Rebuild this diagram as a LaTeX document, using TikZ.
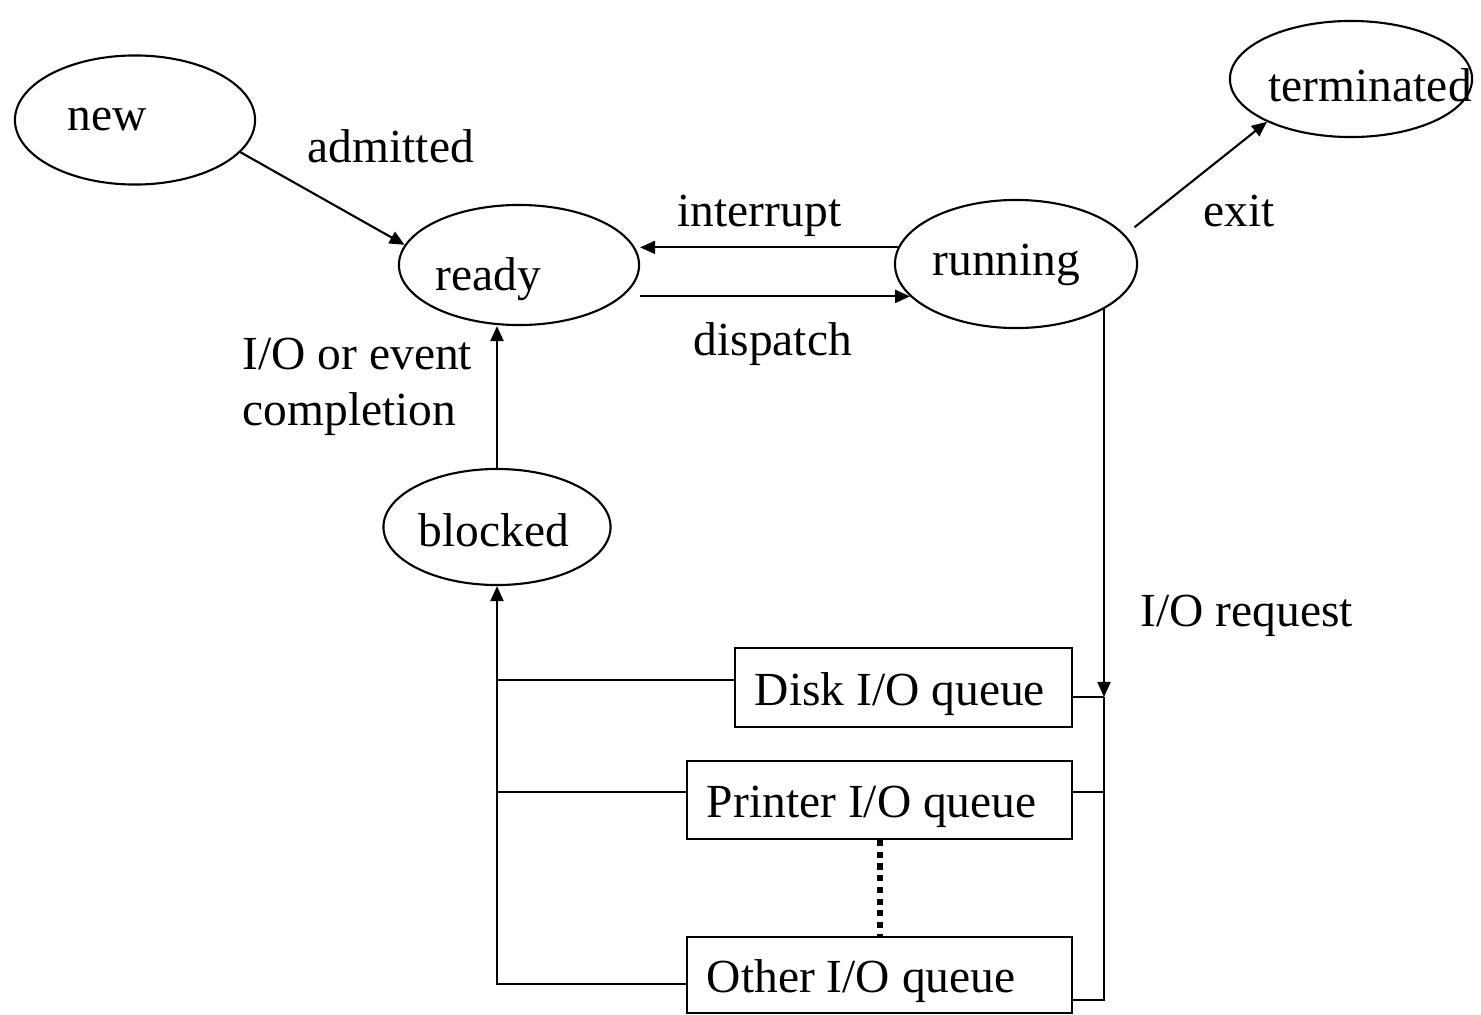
\documentclass[tikz,border=0pt]{standalone}
\usepackage{fontspec}
\setmainfont{Liberation Serif}
\usetikzlibrary{shapes,arrows.meta}

\newcommand{\qtext}[2]{\makebox[#1][l]{#2}}

\tikzset{
	state/.style={draw,ellipse,inner sep=0pt,line width=0.6pt},
	queue/.style={draw,rectangle,line width=0.6pt,inner xsep=0.2cm,inner ysep=0pt,text height=0.45cm,text depth=0.1cm,font=\fontsize{13.5}{16}\selectfont},
	lbl/.style={inner sep=0pt,anchor=base west,font=\fontsize{13.5}{16}\selectfont},
	arr/.style={line width=0.6pt,-{Triangle[length=0.15cm,width=0.13cm]}},
	wire/.style={line width=0.6pt},
	dotline/.style={line width=0.06cm,dash pattern=on 0.06cm off 0.057cm}
}

\begin{document}
\begin{tikzpicture}[x=0.01cm,y=-0.01cm]
					\useasboundingbox (0,0) rectangle (1481,1015);
					\node[state,minimum width=2.4cm,minimum height=1.29cm] (new) at (135,120) {};
					\node[state,minimum width=2.4cm,minimum height=1.2cm] (ready) at (519,265) {};
					\node[state,minimum width=2.42cm,minimum height=1.28cm] (running) at (1016,264) {};
					\node[state,minimum width=2.42cm,minimum height=1.16cm] (terminated) at (1351,79) {};
					\node[state,minimum width=2.27cm,minimum height=1.16cm] (blocked) at (497,527) {};
					\node[lbl] (new-t) at (67,130) {new};
					\node[lbl] (ready-t) at (435,290) {ready};
					\node[lbl] (running-t) at (932,275) {running};
					\node[lbl] (terminated-t) at (1268,101) {terminated};
					\node[lbl] (blocked-t) at (418,546) {blocked};
					\node[lbl] (admitted-t) at (307,162) {admitted};
					\node[lbl] (interrupt-t) at (677,226) {interrupt};
					\node[lbl] (dispatch-t) at (693,355) {dispatch};
					\node[lbl] (exit-t) at (1203,226) {exit};
					\node[lbl] (event-t) at (242,369) {I/O or event};
					\node[lbl] (completion-t) at (242,425) {completion};
					\node[lbl] (request-t) at (1140,626) {I/O request};
					\node[queue,minimum height=0.79cm] (disk) at (903.5,687.5) {\qtext{2.97cm}{Disk I/O queue}};
					\node[queue,minimum height=0.78cm] (printer) at (879.5,800) {\qtext{3.45cm}{Printer I/O queue}};
					\node[queue,minimum height=0.76cm] (other) at (879.5,975) {\qtext{3.45cm}{Other I/O queue}};
					\coordinate (bus-d) at (1104,697);
					\coordinate (bus-p) at (1104,792);
					\coordinate (bus-o) at (1104,1000);
					\coordinate (ret-d) at (497,680);
					\coordinate (ret-p) at (497,792);
					\coordinate (ret-o) at (497,984);
					\draw[arr] (new.-17) -- (ready.170);
					\draw[arr] (running.172) -- (running.172 -| ready.east);
					\draw[arr] (ready.east |- running.-163) -- (running.-163);
					\draw[arr,shorten <=0.12cm] (running.15) -- (terminated.-153);
					\draw[arr] (running.-27 -| bus-d) -- (bus-d);
					\draw[wire] (bus-d) -- (bus-o) -- (bus-o -| other.east);
					\draw[wire] (disk.east |- bus-d) -- (bus-d);
					\draw[wire] (printer.east |- bus-p) -- (bus-p);
					\draw[wire] (disk.west |- ret-d) -- (ret-d);
					\draw[wire] (printer.west |- ret-p) -- (ret-p);
					\draw[arr] (other.west |- ret-o) -- (ret-o) -- (blocked.south);
					\draw[arr] (blocked.north) -- (blocked.north |- ready.south);
					\draw[dotline] (printer.south) -- (other.north);
				\end{tikzpicture}
\end{document}
